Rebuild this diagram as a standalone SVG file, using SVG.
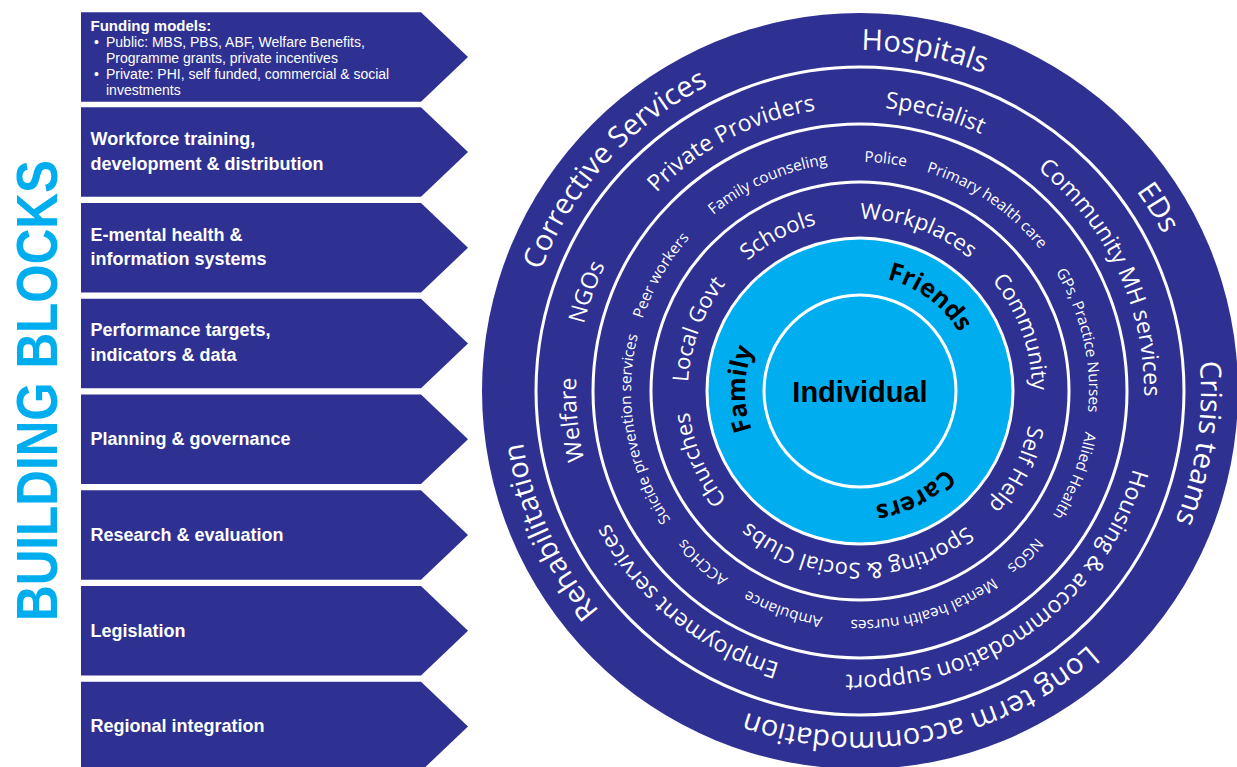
<svg xmlns="http://www.w3.org/2000/svg" xmlns:xlink="http://www.w3.org/1999/xlink" width="1237" height="767" viewBox="0 0 1237 767">
<style>
.chev{fill:#2E3192}
.ct{font-family:"Liberation Sans",Arial,sans-serif;font-weight:bold;fill:#fff;font-size:18px}
.fm{font-family:"Liberation Sans",Arial,sans-serif;fill:#fff;font-size:14px}
.ring{fill:none;stroke:#fff;stroke-width:3}
.a{font-family:"Open Sans","Noto Sans",sans-serif;fill:#fff}
.r1{font-size:29px}
.r2{font-size:23px}
.r3{font-size:15.3px}
.r4{font-size:22px}
.r5{font-family:"Open Sans","Noto Sans",sans-serif;font-weight:bold;fill:#000;font-size:25px}
</style>
<defs>
<path id="p1" d="M860,50 A341,341 0 0 1 860,732 A341,341 0 0 1 860,50 A341,341 0 0 1 860,732 A341,341 0 0 1 860,50"/>
<path id="p2" d="M860,107 A284,284 0 0 1 860,675 A284,284 0 0 1 860,107 A284,284 0 0 1 860,675 A284,284 0 0 1 860,107"/>
<path id="p3" d="M860,162 A229,229 0 0 1 860,620 A229,229 0 0 1 860,162 A229,229 0 0 1 860,620 A229,229 0 0 1 860,162"/>
<path id="p4" d="M860,219 A172,172 0 0 1 860,563 A172,172 0 0 1 860,219 A172,172 0 0 1 860,563 A172,172 0 0 1 860,219"/>
<path id="p5" d="M860,276 A115,115 0 0 1 860,506 A115,115 0 0 1 860,276 A115,115 0 0 1 860,506 A115,115 0 0 1 860,276"/>
</defs>
<rect width="1237" height="767" fill="#fff"/>

<text id="title" transform="translate(57,621) rotate(-90)" font-family="'Liberation Sans',Arial,sans-serif" font-weight="bold" font-size="58" fill="#00AEEF" textLength="461" lengthAdjust="spacingAndGlyphs">BUILDING BLOCKS</text>

<g id="block-funding">
<polygon class="chev" points="81,12.3 421,12.3 468,57 421,101.7 81,101.7"/>
<text class="ct" x="90.5" y="31" style="font-size:15px">Funding models:</text>
<text class="fm" x="94" y="47">•</text><text class="fm" x="106" y="47">Public: MBS, PBS, ABF, Welfare Benefits,</text>
<text class="fm" x="106" y="63">Programme grants, private incentives</text>
<text class="fm" x="94" y="79">•</text><text class="fm" x="106" y="79">Private: PHI, self funded, commercial &amp; social</text>
<text class="fm" x="106" y="95">investments</text>
</g>
<g id="block-workforce">
<polygon class="chev" points="81,107.3 421,107.3 468,152 421,196.8 81,196.8"/>
<text class="ct" x="90.5" y="145">Workforce training,</text>
<text class="ct" x="90.5" y="169.5">development &amp; distribution</text>
</g>
<g id="block-emental">
<polygon class="chev" points="81,203 421,203 468,247.7 421,292.5 81,292.5"/>
<text class="ct" x="90.5" y="240.5">E-mental health &amp;</text>
<text class="ct" x="90.5" y="265">information systems</text>
</g>
<g id="block-performance">
<polygon class="chev" points="81,298.7 421,298.7 468,343.4 421,388.2 81,388.2"/>
<text class="ct" x="90.5" y="336">Performance targets,</text>
<text class="ct" x="90.5" y="360.5">indicators &amp; data</text>
</g>
<g id="block-planning">
<polygon class="chev" points="81,394.5 421,394.5 468,439.2 421,484 81,484"/>
<text class="ct" x="90.5" y="445">Planning &amp; governance</text>
</g>
<g id="block-research">
<polygon class="chev" points="81,490.2 421,490.2 468,535 421,579.7 81,579.7"/>
<text class="ct" x="90.5" y="540.7">Research &amp; evaluation</text>
</g>
<g id="block-legislation">
<polygon class="chev" points="81,586 421,586 468,630.7 421,675.5 81,675.5"/>
<text class="ct" x="90.5" y="636.5">Legislation</text>
</g>
<g id="block-regional">
<polygon class="chev" points="81,681.7 421,681.7 468,726.4 421,771.2 81,771.2"/>
<text class="ct" x="90.5" y="732.2">Regional integration</text>
</g>

<g id="circle-base">
<circle cx="860" cy="391" r="378" fill="#2E3192"/>
<circle class="ring" cx="860" cy="391" r="324"/>
<circle class="ring" cx="860" cy="391" r="267"/>
<circle class="ring" cx="860" cy="391" r="209"/>
<circle cx="860" cy="391" r="153" fill="#00AEEF" stroke="#fff" stroke-width="3"/>
<circle cx="860" cy="391" r="96" fill="#00AEEF" stroke="#fff" stroke-width="3"/>
</g>

<g id="ring-outer" class="a r1">
<text><textPath xlink:href="#p1" href="#p1" startOffset="2205.7" text-anchor="middle">Hospitals</textPath></text>
<text><textPath xlink:href="#p1" href="#p1" startOffset="2489" text-anchor="middle">EDs</textPath></text>
<text><textPath xlink:href="#p1" href="#p1" startOffset="587.4" text-anchor="middle">Crisis teams</textPath></text>
<text><textPath xlink:href="#p1" href="#p1" startOffset="1004" text-anchor="middle">Long term accommodation</textPath></text>
<text><textPath xlink:href="#p1" href="#p1" startOffset="1461.1" text-anchor="middle">Rehabilitation</textPath></text>
<text><textPath xlink:href="#p1" href="#p1" startOffset="1856.9" text-anchor="middle">Corrective Services</textPath></text>
</g>

<g id="ring-2" class="a r2">
<text><textPath xlink:href="#p2" href="#p2" startOffset="1858.8" text-anchor="middle">Specialist</textPath></text>
<text><textPath xlink:href="#p2" href="#p2" startOffset="2105.1" text-anchor="middle">Community MH services</textPath></text>
<text><textPath xlink:href="#p2" href="#p2" startOffset="715.3" text-anchor="middle">Housing &amp; accommodation support</textPath></text>
<text><textPath xlink:href="#p2" href="#p2" startOffset="1087" text-anchor="middle">Employment services</textPath></text>
<text><textPath xlink:href="#p2" href="#p2" startOffset="1309.6" text-anchor="middle">Welfare</textPath></text>
<text><textPath xlink:href="#p2" href="#p2" startOffset="1436.5" text-anchor="middle">NGOs</textPath></text>
<text><textPath xlink:href="#p2" href="#p2" startOffset="1648.1" text-anchor="middle">Private Providers</textPath></text>
</g>

<g id="ring-3" class="a r3">
<text><textPath xlink:href="#p3" href="#p3" startOffset="1463.6" text-anchor="middle">Police</textPath></text>
<text><textPath xlink:href="#p3" href="#p3" startOffset="1575.5" text-anchor="middle">Primary health care</textPath></text>
<text><textPath xlink:href="#p3" href="#p3" startOffset="1745.8" text-anchor="middle">GPs, Practice Nurses</textPath></text>
<text><textPath xlink:href="#p3" href="#p3" startOffset="445.6" text-anchor="middle">Allied Health</textPath></text>
<text><textPath xlink:href="#p3" href="#p3" startOffset="539" text-anchor="middle">NGOs</textPath></text>
<text><textPath xlink:href="#p3" href="#p3" startOffset="653" text-anchor="middle">Mental health nurses</textPath></text>
<text><textPath xlink:href="#p3" href="#p3" startOffset="796.6" text-anchor="middle">Ambulance</textPath></text>
<text><textPath xlink:href="#p3" href="#p3" startOffset="889.3" text-anchor="middle">ACCHOs</textPath></text>
<text><textPath xlink:href="#p3" href="#p3" startOffset="1038.4" text-anchor="middle">Suicide prevention services</textPath></text>
<text><textPath xlink:href="#p3" href="#p3" startOffset="1199" text-anchor="middle">Peer workers</textPath></text>
<text><textPath xlink:href="#p3" href="#p3" startOffset="1342.5" text-anchor="middle">Family counseling</textPath></text>
</g>

<g id="ring-4" class="a r4">
<text><textPath xlink:href="#p4" href="#p4" startOffset="997" text-anchor="middle">Schools</textPath></text>
<text><textPath xlink:href="#p4" href="#p4" startOffset="1139.6" text-anchor="middle">Workplaces</textPath></text>
<text><textPath xlink:href="#p4" href="#p4" startOffset="1290" text-anchor="middle">Community</textPath></text>
<text><textPath xlink:href="#p4" href="#p4" startOffset="350" text-anchor="middle">Self Help</textPath></text>
<text><textPath xlink:href="#p4" href="#p4" startOffset="543.4" text-anchor="middle">Sporting &amp; Social Clubs</textPath></text>
<text><textPath xlink:href="#p4" href="#p4" startOffset="740.6" text-anchor="middle">Churches</textPath></text>
<text><textPath xlink:href="#p4" href="#p4" startOffset="872.4" text-anchor="middle">Local Govt</textPath></text>
</g>

<g id="ring-5" class="r5">
<text><textPath xlink:href="#p5" href="#p5" startOffset="795" text-anchor="middle">Friends</textPath></text>
<text><textPath xlink:href="#p5" href="#p5" startOffset="305.3" text-anchor="middle">Carers</textPath></text>
<text><textPath xlink:href="#p5" href="#p5" startOffset="542.9" text-anchor="middle">Family</textPath></text>
</g>

<g id="individual">
<text x="860" y="402" text-anchor="middle" font-family="'Liberation Sans',Arial,sans-serif" font-weight="bold" font-size="29" fill="#000">Individual</text>
</g>
<g id="connectors"/>
</svg>
